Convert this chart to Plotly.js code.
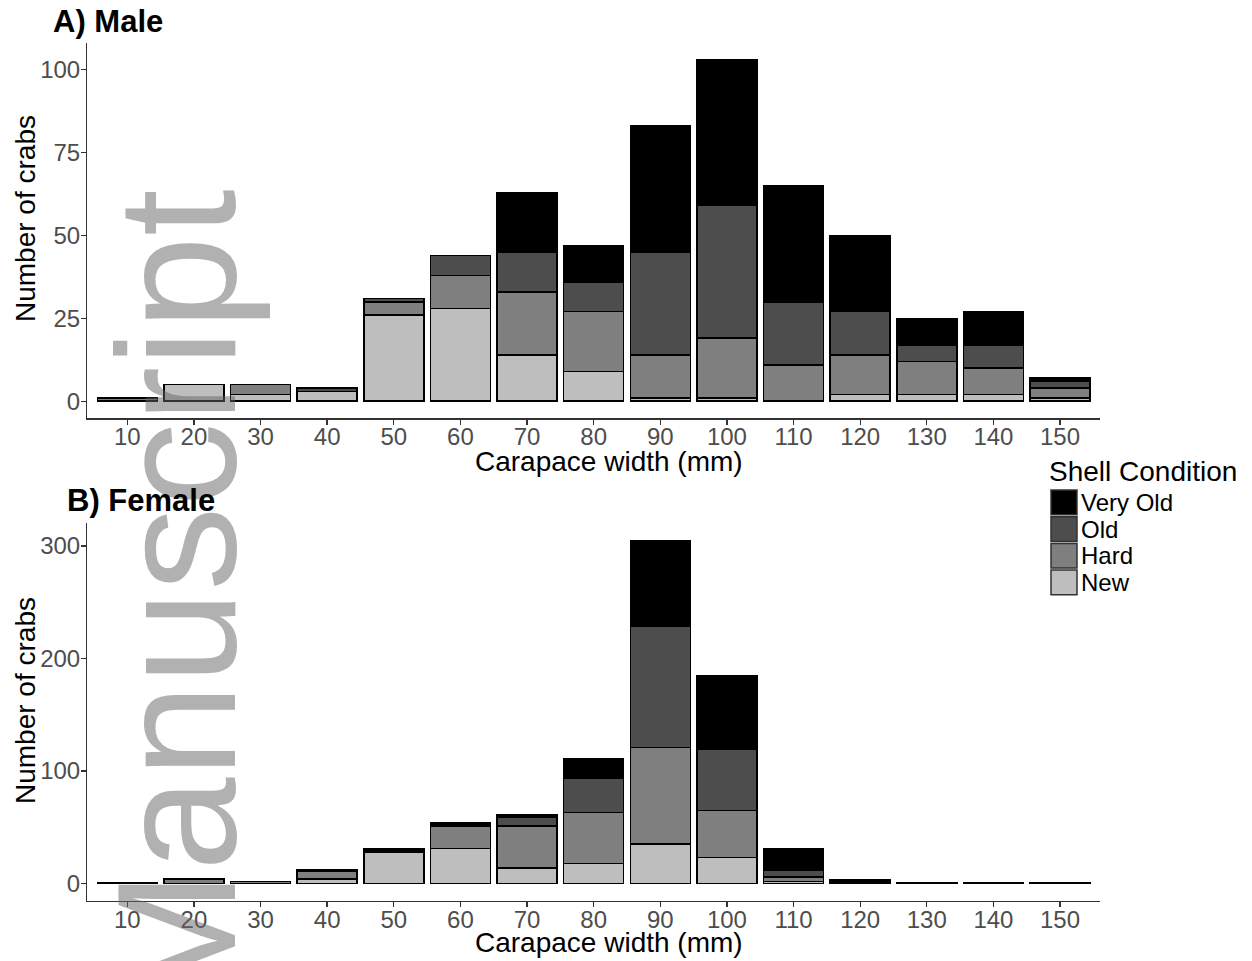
<!DOCTYPE html>
<html>
<head>
<meta charset="utf-8">
<script src="https://cdn.plot.ly/plotly-3.0.1.min.js"></script>
<style>html,body{margin:0;padding:0;background:#fff;}#chart{width:1252px;height:961px;}</style>
</head>
<body>
<div id="chart"></div>
<script>
// ---- data ----
const categories = ['10','20','30','40','50','60','70','80','90','100','110','120','130','140','150'];
const seriesNames = ['New','Hard','Old','Very Old'];

const maleNew     = [0,5,2,3,26,28,14, 9, 1, 1, 0, 2,2, 2,1];
const maleHard    = [1,0,3,0, 4,10,19,18,13,18,11,12,10,8,3];
const maleOld     = [0,0,0,1, 1, 6,12, 9,31,40,19,13,5, 7,2];
const maleVeryOld = [0,0,0,0, 0, 0,18,11,38,44,35,23,8,10,1];

const femaleNew     = [1,0,0,4,28,31,14,18, 35,23, 2,0,0,0,0];
const femaleHard    = [0,4,2,7, 2,20,37,45, 86,42, 4,0,0,0,0];
const femaleOld     = [0,0,0,1, 1, 2, 8,31,108,54, 6,0,0,0,0];
const femaleVeryOld = [0,0,0,0, 0, 1, 2,17, 76,66,19,3,1,1,1];

const maleTicks = [0,25,50,75,100];
const femaleTicks = [0,100,200,300];

const xTitle = 'Carapace width (mm)';
const yTitle = 'Number of crabs';
const legendTitle = 'Shell Condition';

// ---- styles ----
const fills = {'New':'#bebebe','Hard':'#7f7f7f','Old':'#4d4d4d','Very Old':'#000000'};
const W = 1252, H = 961;
const px = v => v / W;
const py = v => 1 - v / H;
const FONT = 'Liberation Sans, Arial, Helvetica, sans-serif';

function mkTraces(arrs, xa, ya) {
  return arrs.map((vals, i) => ({
    type: 'bar', x: categories, y: vals, name: seriesNames[i],
    xaxis: xa, yaxis: ya, showlegend: false,
    marker: {color: fills[seriesNames[i]], line: {color: '#000', width: 1.5}},
    hoverinfo: 'x+y+name'
  }));
}
const traces = [
  ...mkTraces([maleNew, maleHard, maleOld, maleVeryOld], 'x', 'y'),
  ...mkTraces([femaleNew, femaleHard, femaleOld, femaleVeryOld], 'x2', 'y2')
];

function xAxis(anchor) {
  return {
    domain: [px(87.3), px(1100)], anchor: anchor, type: 'category',
    categoryorder: 'array', categoryarray: categories, range: [-0.6, 14.6],
    showline: true, linecolor: '#333', linewidth: 1.3, mirror: false,
    ticks: 'outside', ticklen: 5, tickwidth: 1.3, tickcolor: '#333',
    ticklabelstandoff: -8,
    tickfont: {family: FONT, size: 24, color: '#4d4d4d'},
    showgrid: false, zeroline: false, automargin: false
  };
}
function yAxis(anchor, dom, rng, ticks) {
  return {
    domain: dom, anchor: anchor, range: rng, tickmode: 'array', tickvals: ticks,
    ticktext: ticks.map(String),
    showline: true, linecolor: '#333', linewidth: 1.3,
    ticks: 'outside', ticklen: 5, tickwidth: 1.3, tickcolor: '#333',
    ticklabelstandoff: -4,
    tickfont: {family: FONT, size: 24, color: '#4d4d4d'},
    showgrid: false, zeroline: false, automargin: false
  };
}

// manual legend (ggplot-style keys)
const legendTop = 489, keyH = 26.7;
const legendOrder = ['Very Old','Old','Hard','New'];
const shapes = legendOrder.map((name, i) => ({
  type: 'rect', xref: 'paper', yref: 'paper',
  x0: px(1051), x1: px(1077),
  y0: py(legendTop + i * keyH + 1), y1: py(legendTop + (i + 1) * keyH - 1),
  fillcolor: fills[name], line: {color: '#333', width: 1.5}
}));

const txt = (text, x, y, size, extra) => Object.assign({
  text: text, xref: 'paper', yref: 'paper', x: px(x), y: py(y), showarrow: false,
  xanchor: 'center', yanchor: 'middle',
  font: {family: FONT, size: size, color: '#000'}
}, extra || {});

const annotations = [
  {text: 'Manuscript', xref: 'paper', yref: 'paper', x: px(81), y: py(600), textangle: -90,
   xanchor: 'left', yanchor: 'middle',
   showarrow: false, font: {family: FONT, size: 168, color: 'rgba(100,100,100,0.5)'}},
  txt('<b>A) Male</b>', 51, 2, 31, {xanchor: 'left', yanchor: 'top'}),
  txt('<b>B) Female</b>', 65, 481, 31, {xanchor: 'left', yanchor: 'top'}),
  txt(xTitle, 609, 461, 28),
  txt(xTitle, 609, 942, 28),
  txt(yTitle, 25, 219, 28, {textangle: -90}),
  txt(yTitle, 25, 701, 28, {textangle: -90}),
  txt(legendTitle, 1047, 471, 28, {xanchor: 'left'}),
  ...legendOrder.map((name, i) => txt(name, 1079, legendTop + (i + 0.5) * keyH, 24,
    {xanchor: 'left'}))
];

const layout = {
  width: W, height: H, margin: {l: 0, r: 0, t: 0, b: 0},
  paper_bgcolor: '#fff', plot_bgcolor: '#fff',
  barmode: 'stack', bargap: 0.1, showlegend: false,
  font: {family: FONT},
  xaxis: xAxis('y'),
  yaxis: yAxis('x', [py(418.3), py(42.7)], [-5.15, 108.15], maleTicks),
  xaxis2: xAxis('y2'),
  yaxis2: yAxis('x2', [py(900.7), py(523.3)], [-15.25, 320.25], femaleTicks),
  shapes: shapes,
  annotations: annotations
};

Plotly.newPlot('chart', traces, layout, {displayModeBar: false, staticPlot: true});
</script>
</body>
</html>
